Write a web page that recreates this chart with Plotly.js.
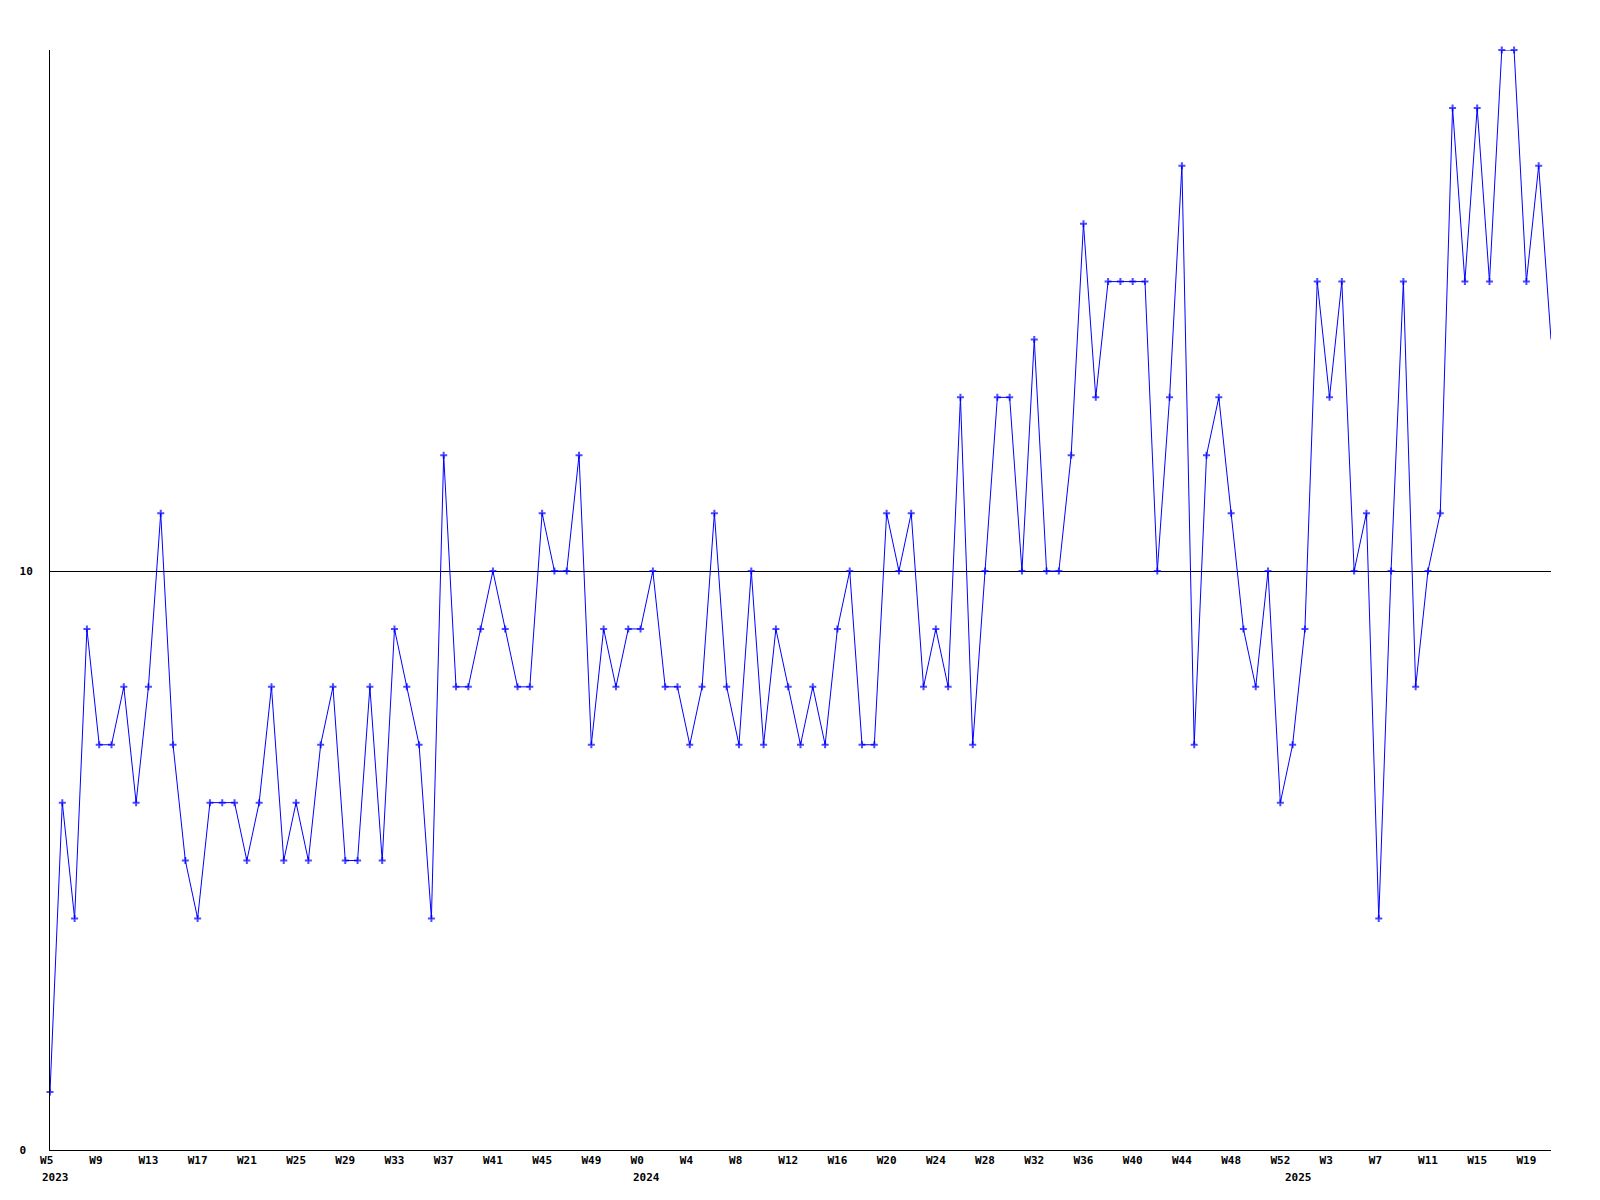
<!DOCTYPE html>
<html>
<head>
<meta charset="utf-8">
<script src="https://cdn.plot.ly/plotly-3.0.1.min.js"></script>
<style>
html,body{margin:0;padding:0;background:#fff;}
#chart{width:1600px;height:1200px;}
</style>
</head>
<body>
<div id="chart"></div>
<script>
// Weekly values, starting at W5 2023
const values = [
  1,6,4,9,7,7,8,6,8,11,
  7,5,4,6,6,6,5,6,8,5,
  6,5,7,8,5,5,8,5,9,8,
  7,4,12,8,8,9,10,9,8,8,
  11,10,10,12,7,9,8,9,9,10,
  8,8,7,8,11,8,7,10,7,9,
  8,7,8,7,9,10,7,7,11,10,
  11,8,9,8,13,7,10,13,13,10,
  14,10,10,12,16,13,15,15,15,15,
  10,13,17,7,12,13,11,9,8,10,
  6,7,9,15,13,15,10,11,4,10,
  15,8,10,11,18,15,18,15,19,19,
  15,17,14
];
// Tick labels (every 4th week)
const tickLabels = ["W5","W9","W13","W17","W21","W25","W29","W33","W37","W41","W45","W49",
  "W0","W4","W8","W12","W16","W20","W24","W28","W32","W36","W40","W44","W48","W52",
  "W3","W7","W11","W15","W19"];
// Year labels and the week index where each year starts
const years = ["2023","2024","2025"];
const yearStart = [0,48,101];
const yTickVals = [0,10];
const yTickLabels = ["0","10"];

const xs = values.map((_, i) => i);
const tickVals = tickLabels.map((_, i) => i * 4);
const pad = s => s.length < 3 ? s + "\u00a0".repeat(3 - s.length) : s;
const markerSizes = values.map((_, i) => i === values.length - 1 ? 0 : 5);

const font = {family: "DejaVu Sans Mono", size: 11, color: "#000", weight: "bold"};

const trace = {
  x: xs, y: values, type: "scatter", mode: "lines+markers",
  line: {color: "#0000ff", width: 1},
  marker: {symbol: "cross-thin", size: markerSizes, color: "#0000ff", line: {color: "#0000ff", width: 2}},
  cliponaxis: false,
  hoverinfo: "skip"
};

const annotations = years.map((y, i) => ({
  x: yearStart[i], xref: "x", y: 0, yref: "paper",
  text: y, showarrow: false, xanchor: "left", yanchor: "middle",
  xshift: -10, yshift: -27, font: font
}));

const layout = {
  width: 1600, height: 1200,
  margin: {l: 50, r: 49, t: 50, b: 50, pad: 0},
  paper_bgcolor: "#fff", plot_bgcolor: "#fff",
  showlegend: false,
  xaxis: {
    range: [0, values.length - 1], autorange: false,
    showgrid: false, zeroline: false,
    showline: true, linecolor: "#000", linewidth: 1,
    ticks: "", tickvals: tickVals, ticktext: tickLabels.map(pad),
    tickfont: font, tickangle: 0, fixedrange: true
  },
  yaxis: {
    range: [0, 19], autorange: false,
    showgrid: true, gridcolor: "#000", gridwidth: 1,
    zeroline: false, showline: true, linecolor: "#000", linewidth: 1,
    ticks: "", tickvals: yTickVals, ticktext: yTickLabels.map(s => s.length < 2 ? s + "\u00a0" : s),
    tickfont: font, ticklabelstandoff: 14, fixedrange: true
  },
  annotations: annotations
};

Plotly.newPlot("chart", [trace], layout, {staticPlot: true, displayModeBar: false});
</script>
</body>
</html>
